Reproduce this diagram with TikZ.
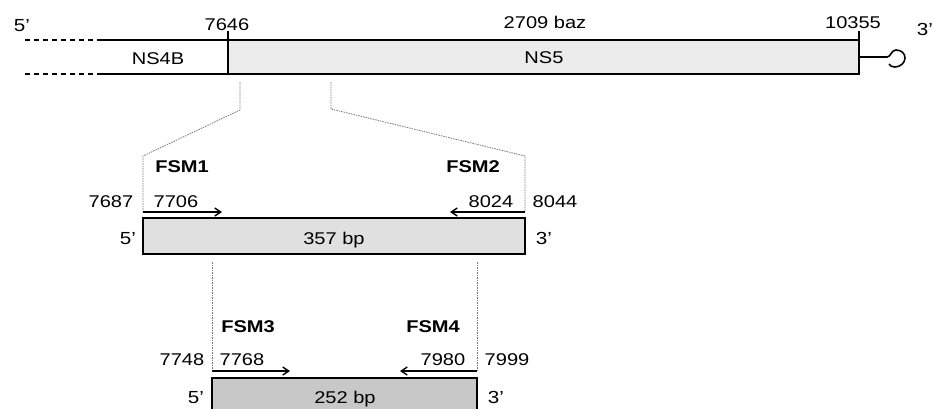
\documentclass[tikz,border=0pt]{standalone}
\usepackage{fontspec}
\setmainfont{Liberation Sans}[FakeStretch=1.18]
\usetikzlibrary{arrows.meta}
\definecolor{boxA}{RGB}{236,236,236}
\definecolor{boxB}{RGB}{224,224,224}
\definecolor{boxC}{RGB}{200,200,200}
\definecolor{dotc}{RGB}{120,120,120}
\tikzset{
  lbl/.style={inner sep=0pt, text height=12pt, text depth=0pt, font=\fontsize{17}{20}\selectfont},
  blbl/.style={lbl, font=\fontsize{17}{20}\selectfont\bfseries},
  endlbl/.style={inner sep=0pt, text height=12.5pt, text depth=0pt, font=\fontsize{17.5}{20}\selectfont},
  bar/.style={line width=1.8pt, black},
  segbox/.style={draw=black, line width=1.8pt, inner sep=0pt, outer sep=0pt, anchor=north west},
  zoomline/.style={dotc, line width=0.8pt, dash pattern=on 1.5pt off 1pt},
  primer/.style={line width=1.4pt, -{Straight Barb[length=6pt,width=8pt,line width=1.4pt]}}
}
\begin{document}
\begin{tikzpicture}[x=1pt,y=-1pt]
\useasboundingbox (0,0) rectangle (934,408);
\clip (0,0) rectangle (934,408);
% ---------- top genome bar ----------
\node[segbox, fill=boxA, minimum width=631pt, minimum height=34pt] (ns5) at (228,40) {};
\node[lbl] (ns5t) at (544,57) {NS5};
\node[lbl] (ns4b) at (158,58) {NS4B};
\coordinate (tl) at (100,40);
\coordinate (bl) at (100,74);
\coordinate (tld) at (25,40);
\coordinate (bld) at (25,74);
\draw[bar] (tl) -- (ns5.north west);
\draw[bar] (bl) -- (ns5.south west);
\draw[bar, dash pattern=on 5pt off 4pt] (tld) -- (tl);
\draw[bar, dash pattern=on 5pt off 4pt] (bld) -- (bl);
\coordinate (tick1) at (228,31);
\coordinate (tick2) at (859,31);
\draw[line width=1.6pt] (tick1) -- (ns5.north west);
\draw[line width=1.6pt] (tick2) -- (ns5.north east);
\coordinate (hk) at (887,57);
\draw[line width=1.6pt] (ns5.east) -- (hk)
  .. controls (891,57) and (891,50) .. (896,50)
  .. controls (902,50) and (905,54) .. (905,58)
  .. controls (905,63) and (900,67) .. (895,67)
  .. controls (892,67) and (890,66) .. (889,64);
\node[endlbl] (five0) at (22,25) {5'};
\node[endlbl] (three0) at (925,29) {3'};
\node[lbl] (n7646) at (227,24) {7646};
\node[lbl] (baz) at (545,22) {2709 baz};
\node[lbl] (n10355) at (853,22) {10355};
% ---------- zoom lines to first amplicon ----------
\coordinate (z1a) at (240,82);
\coordinate (z1b) at (240,110);
\coordinate (z1c) at (143,156);
\coordinate (z2a) at (331,82);
\coordinate (z2b) at (331,109);
\coordinate (z2c) at (525,156);
% ---------- first amplicon ----------
\node[segbox, fill=boxB, minimum width=382pt, minimum height=36pt] (amp1) at (143,218) {};
\node[lbl] (amp1t) at (334,238) {357 bp};
\coordinate (f1s) at (143,212);
\coordinate (f1e) at (222,212);
\coordinate (r1s) at (525,212);
\coordinate (r1e) at (450,212);
\draw[zoomline] (z1a) -- (z1b) -- (z1c) -- (f1s);
\draw[zoomline] (z2a) -- (z2b) -- (z2c) -- (r1s);
\draw[primer] (f1s) -- (f1e);
\draw[primer] (r1s) -- (r1e);
\node[blbl] (fsm1) at (182,166) {FSM1};
\node[blbl] (fsm2) at (473,166) {FSM2};
\node[lbl] (n7687) at (111,201) {7687};
\node[lbl] (n7706) at (176,201) {7706};
\node[lbl] (n8024) at (491,201) {8024};
\node[lbl] (n8044) at (555,201) {8044};
\node[endlbl] (five1) at (128,238) {5'};
\node[endlbl] (three1) at (544,238) {3'};
% ---------- second amplicon ----------
\node[segbox, fill=boxC, minimum width=265pt, minimum height=38pt] (amp2) at (212,378) {};
\node[lbl] (amp2t) at (345,397) {252 bp};
\coordinate (z3a) at (212,262);
\coordinate (z4a) at (477,262);
\coordinate (f2s) at (212,371);
\coordinate (f2e) at (290,371);
\coordinate (r2s) at (477,371);
\coordinate (r2e) at (400,371);
\draw[zoomline] (z3a) -- (f2s);
\draw[zoomline] (z4a) -- (r2s);
\draw[primer] (f2s) -- (f2e);
\draw[primer] (r2s) -- (r2e);
\node[blbl] (fsm3) at (248,326) {FSM3};
\node[blbl] (fsm4) at (433,326) {FSM4};
\node[lbl] (n7748) at (182,359) {7748};
\node[lbl] (n7768) at (242,359) {7768};
\node[lbl] (n7980) at (443,359) {7980};
\node[lbl] (n7999) at (507,359) {7999};
\node[endlbl] (five2) at (196,397) {5'};
\node[endlbl] (three2) at (496,397) {3'};
\end{tikzpicture}
\end{document}
